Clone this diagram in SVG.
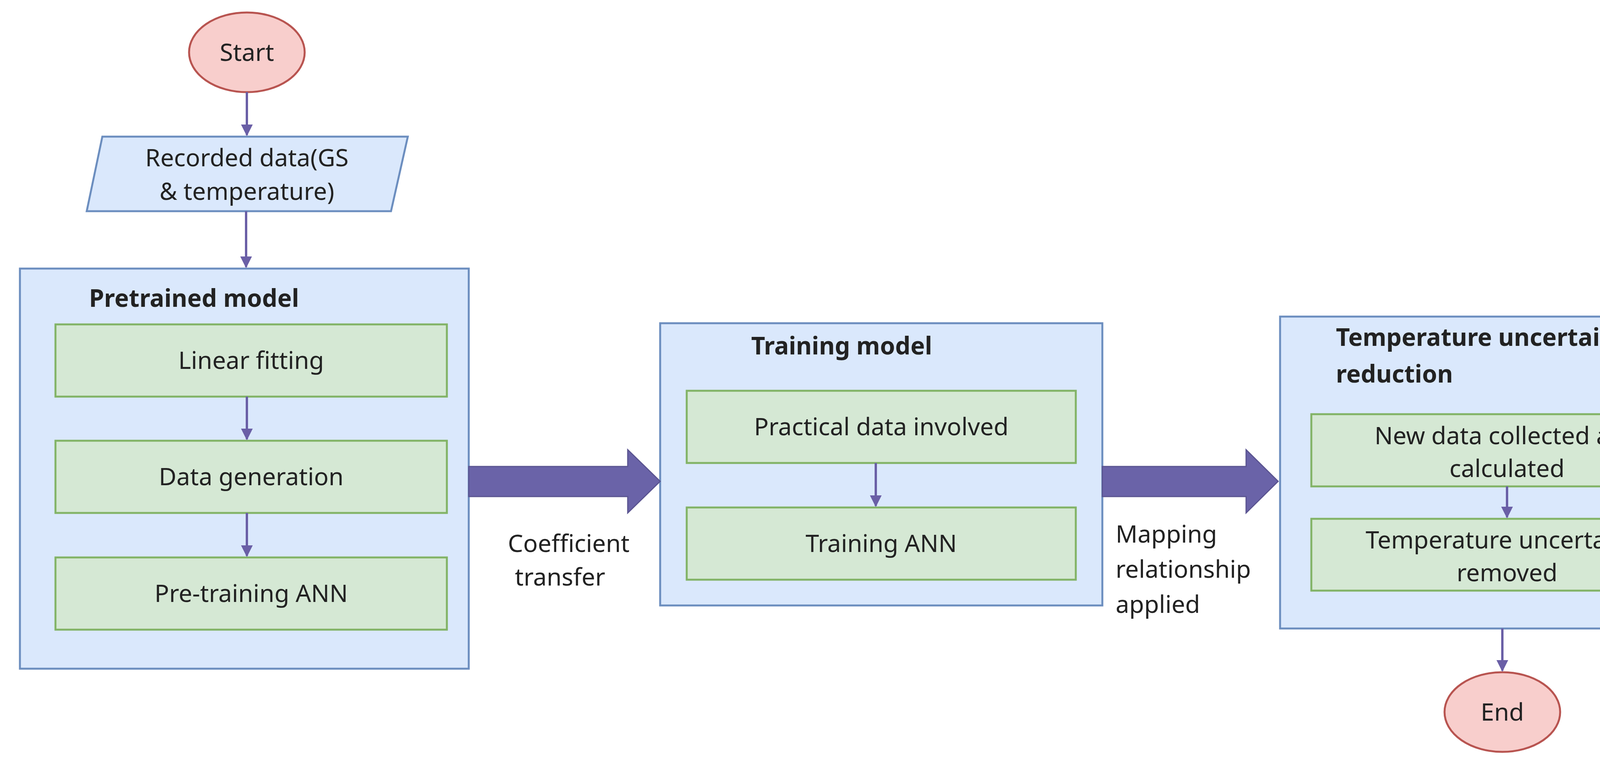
<svg xmlns="http://www.w3.org/2000/svg" width="4461" height="1952" viewBox="0 0 4461 1952">
<defs>
<style>
text{font-family:"Noto Sans","Open Sans","DejaVu Sans",sans-serif;font-size:62px;fill:#222}
.b{font-weight:bold}
.term{fill:#f8cecc;stroke:#b85450;stroke-width:5}
.blue{fill:#dae8fc;stroke:#6c8ebf;stroke-width:5}
.green{fill:#d5e8d4;stroke:#82b366;stroke-width:5}
.ln{stroke:#6a5fa6;stroke-width:6;fill:none;marker-end:url(#ah)}
.big{fill:#6a63a8;stroke:#5a5490;stroke-width:3}
</style>
<marker id="ah" viewBox="0 0 10 10" refX="9" refY="5" markerWidth="5" markerHeight="5" orient="auto"><path d="M0,0L10,5L0,10z" fill="#6a5fa6"/></marker>
</defs>
<g id="start"><ellipse class="term" cx="632" cy="134" rx="148" ry="102"/><text x="632" y="156" text-anchor="middle">Start</text></g>
<g id="recorded"><polygon class="blue" points="262,350 1044,350 1001,541 222,541"/><text x="632" y="426" text-anchor="middle">Recorded data(GS</text><text x="632" y="512" text-anchor="middle">&amp; temperature)</text></g>
<g id="pretrained"><rect class="blue" x="51" y="688" width="1149" height="1025"/><text class="b" x="228" y="786">Pretrained model</text>
<g id="linear"><rect class="green" x="142" y="831" width="1002" height="185"/><text x="643" y="945" text-anchor="middle">Linear fitting</text></g>
<g id="datagen"><rect class="green" x="142" y="1129" width="1002" height="185"/><text x="643" y="1243" text-anchor="middle">Data generation</text></g>
<g id="pretrain"><rect class="green" x="142" y="1428" width="1002" height="185"/><text x="643" y="1542" text-anchor="middle">Pre-training ANN</text></g></g>
<g id="training"><rect class="blue" x="1690" y="828" width="1132" height="723"/><text class="b" x="1923" y="908">Training model</text>
<g id="practical"><rect class="green" x="1758" y="1001" width="996" height="185"/><text x="2256" y="1115" text-anchor="middle">Practical data involved</text></g>
<g id="trainann"><rect class="green" x="1758" y="1300" width="996" height="185"/><text x="2256" y="1414" text-anchor="middle">Training ANN</text></g></g>
<g id="tur"><rect class="blue" x="3277" y="811" width="1138" height="799"/><text class="b" x="3420" y="886">Temperature uncertainty</text><text class="b" x="3420" y="980">reduction</text>
<g id="newdata"><rect class="green" x="3357" y="1061" width="1001" height="185"/><text x="3858" y="1138" text-anchor="middle">New data collected and</text><text x="3858" y="1222" text-anchor="middle">calculated</text></g>
<g id="removed"><rect class="green" x="3357" y="1329" width="1001" height="184"/><text x="3858" y="1405" text-anchor="middle">Temperature uncertainty</text><text x="3858" y="1489" text-anchor="middle">removed</text></g></g>
<g id="end"><ellipse class="term" cx="3846" cy="1824" rx="148" ry="102"/><text x="3846" y="1846" text-anchor="middle">End</text></g>
<g id="connectors">
<line class="ln" x1="632" y1="236" x2="632" y2="346"/>
<line class="ln" x1="630" y1="541" x2="630" y2="684"/>
<line class="ln" x1="632" y1="1016" x2="632" y2="1125"/>
<line class="ln" x1="632" y1="1314" x2="632" y2="1424"/>
<line class="ln" x1="2242" y1="1186" x2="2242" y2="1296"/>
<line class="ln" x1="3858" y1="1246" x2="3858" y2="1325"/>
<line class="ln" x1="3846" y1="1610" x2="3846" y2="1718"/>
<polygon class="big" points="1200,1195 1607,1195 1607,1152 1690,1233 1607,1314 1607,1272 1200,1272"/>
<polygon class="big" points="2822,1195 3190,1195 3190,1152 3272,1233 3190,1314 3190,1272 2822,1272"/>
<text x="1300" y="1414">Coefficient</text><text x="1318" y="1500">transfer</text>
<text x="2856" y="1390">Mapping</text><text x="2856" y="1480">relationship</text><text x="2856" y="1570">applied</text>
</g>
</svg>
